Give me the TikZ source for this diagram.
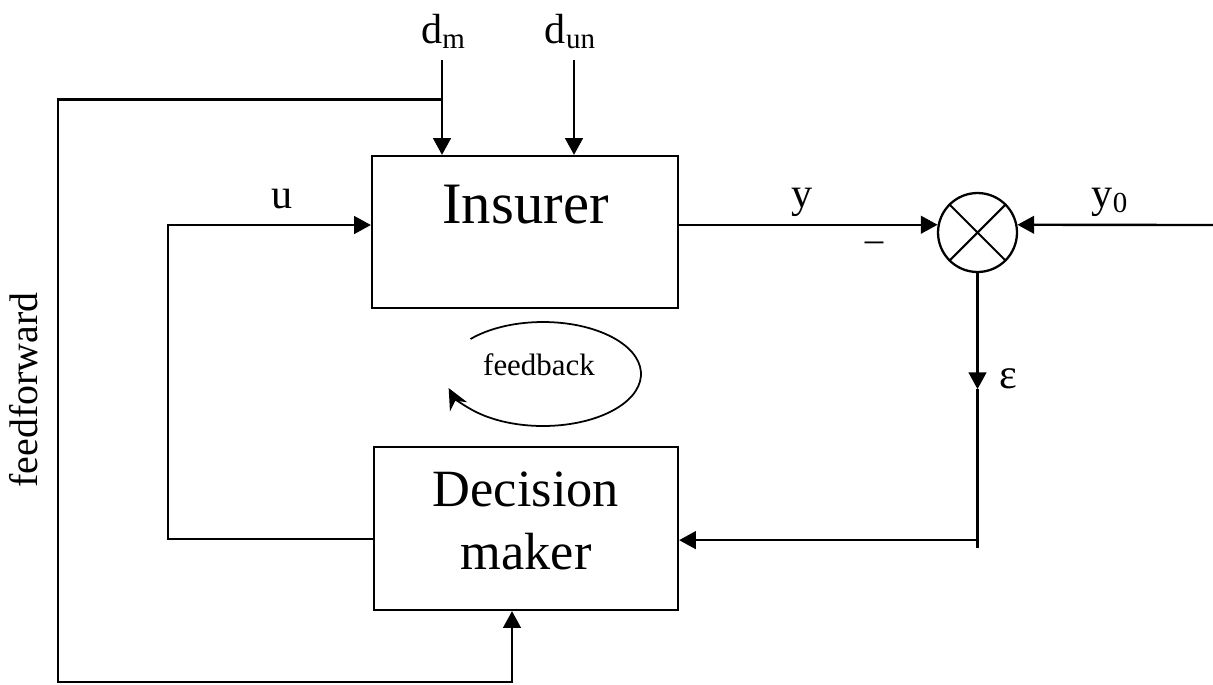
\documentclass[tikz,border=0pt]{standalone}
\usepackage{fontspec}
\setmainfont{Liberation Serif}
\usetikzlibrary{arrows.meta,calc}
\newcommand\lowsub[1]{\raisebox{-3.4pt}{\fontsize{16.5}{16.5}\selectfont #1}}
\begin{document}
\begin{tikzpicture}[x=0.02cm,y=-0.02cm,
  ln/.style={line width=1.35pt},
  arr/.style={ln,-{Triangle[length=9.5pt,width=10pt]}},
  box/.style={draw,line width=1.3pt,rectangle,inner sep=0pt},
  lab/.style={font=\fontsize{24}{28}\selectfont,inner sep=0pt,anchor=base},
]
\useasboundingbox (0,0) rectangle (1213,684);
% blocks
\node[box,minimum width=6.12cm,minimum height=3.04cm] (ins) at (525,232) {};
\node[lab,font=\fontsize{33.4}{40}\selectfont] (inst) at (525.5,223) {Insurer};
\node[box,minimum width=6.08cm,minimum height=3.26cm] (dec) at (526,528.5) {};
\node[font=\fontsize{29.8}{35.7}\selectfont,align=center,inner sep=0pt] (dect) at (526,521) {Decision\\maker};
\node[draw,circle,line width=1.3pt,minimum size=1.58cm,inner sep=0pt] (sum) at (977.5,232.5) {};
\draw[line width=1.2pt] (sum.45) -- (sum.225) (sum.135) -- (sum.315);
% disturbances
\coordinate (dmtop) at (442,60);
\coordinate (duntop) at (574,60);
\draw[arr] (dmtop) -- (dmtop |- ins.north);
\draw[arr] (duntop) -- (duntop |- ins.north);
% feedforward
\coordinate (ffjoin) at (442,99.5);
\coordinate (ffTL) at (58,99.5);
\coordinate (ffBL) at (58,682);
\coordinate (ffBR) at (512,682);
\draw[arr] (ffjoin) -- (ffTL) -- (ffBL) -- (ffBR) -- (ffBR |- dec.south);
% control u
\coordinate (uTL) at (168,225);
\coordinate (uBL) at (168,539);
\draw[arr] (dec.west |- uBL) -- (uBL) -- (uTL) -- (uTL -| ins.west);
% outputs
\draw[arr] (ins.east |- sum.169) -- (sum.169);
\coordinate (y0in) at (1213,225);
\draw[arr] (y0in) -- (sum.11);
% error
\coordinate (epsmid) at ($(sum.south)+(0,116)$);
\coordinate (epsend) at ($(sum.south)+(0,275)$);
\coordinate (epscorner) at ($(sum.south)+(0,267)$);
\draw[arr] (sum.south) -- (epsmid);
\draw[ln] (epsmid) -- (epsend);
\draw[arr] (epscorner) -- (epscorner -| dec.east);
% labels
\node[lab] (ldm) at (443,43) {d\lowsub{m}};
\node[lab] (ldun) at (570,43) {d\lowsub{un}};
\node[lab] (lu) at (282,208) {u};
\node[lab] (ly) at (802,207) {y};
\node[lab] (ly0) at (1109.5,207) {y\lowsub{0}};
\node[lab] (leps) at (1008,388) {ε};
\node[font=\fontsize{21}{21}\selectfont,inner sep=0pt] (lminus) at (874,247) {–};
\node[lab,font=\fontsize{17.6}{20}\selectfont] (lfb) at (539,375) {feedback};
\node[lab,rotate=90,font=\fontsize{22.7}{26}\selectfont] (lff) at (37,390) {feedforward};
% feedback loop
\coordinate (fbc) at (543,374);
\draw[line width=1pt,-{Stealth[length=12pt,width=11pt]}] (fbc) ++(222.3:98 and 52) arc[start angle=222.3,end angle=524.3,x radius=98,y radius=52];
\end{tikzpicture}
\end{document}
